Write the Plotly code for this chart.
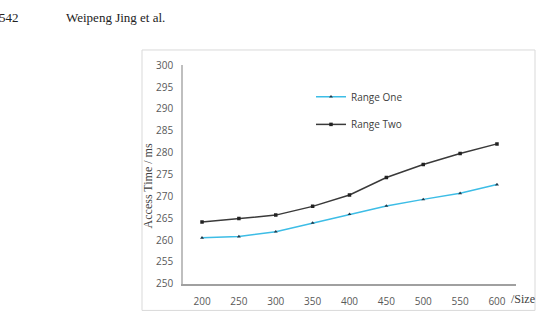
import plotly.graph_objects as go

sizes = [200, 250, 300, 350, 400, 450, 500, 550, 600]
range_one = [260.5, 260.8, 261.9, 263.9, 265.9, 267.8, 269.3, 270.7, 272.7]
range_two = [264.1, 264.9, 265.7, 267.7, 270.3, 274.3, 277.3, 279.8, 282.0]
y_ticks = [250, 255, 260, 265, 270, 275, 280, 285, 290, 295, 300]

W, H = 545, 326
def px(x): return x / W
def py(y): return 1 - y / H

fig = go.Figure()
fig.add_trace(go.Scatter(x=sizes, y=range_one, mode="lines+markers", name="Range One",
                         line=dict(color="#3dbde6", width=1.5),
                         marker=dict(symbol="triangle-up", size=3.5, color="#1f3a4a"),
                         legend="legend"))
fig.add_trace(go.Scatter(x=sizes, y=range_two, mode="lines+markers", name="Range Two",
                         line=dict(color="#3a3a3a", width=1.5),
                         marker=dict(symbol="square", size=3.5, color="#222222"),
                         legend="legend2"))

tickfont = dict(family="Open Sans", size=10, color="#595959")
legfont = dict(family="Open Sans", size=10, color="#404040")

fig.update_layout(
    width=W, height=H, autosize=False,
    margin=dict(l=0, r=0, t=0, b=0),
    paper_bgcolor="white", plot_bgcolor="white",
    xaxis=dict(domain=[px(183), px(516)], range=[174.2, 625.8], tickvals=sizes,
               showgrid=False, zeroline=False, showline=True, linecolor="#a0a0a0", linewidth=1.5,
               ticks="", tickfont=tickfont, ticklabelstandoff=8),
    yaxis=dict(domain=[py(289), py(60)], range=[250, 300], tickvals=y_ticks,
               showgrid=False, zeroline=False, showline=True, linecolor="#bfbfbf", linewidth=1.5,
               ticks="", tickfont=tickfont, ticklabelstandoff=6),
    legend=dict(x=px(311), y=py(93), xanchor="left", yanchor="middle", font=legfont,
                bgcolor="rgba(0,0,0,0)", itemwidth=30),
    legend2=dict(x=px(311), y=py(122), xanchor="left", yanchor="middle", font=legfont,
                 bgcolor="rgba(0,0,0,0)", itemwidth=30),
    showlegend=True,
    shapes=[dict(type="rect", xref="paper", yref="paper", x0=px(142), x1=px(535),
                 y0=py(317), y1=py(44), line=dict(color="#d9d9d9", width=1))],
    annotations=[
        dict(text="542", xref="paper", yref="paper", x=px(-3), y=py(10), xanchor="left",
             yanchor="middle", showarrow=False,
             font=dict(family="Liberation Serif", size=13, color="#222222")),
        dict(text="Weipeng Jing et al.", xref="paper", yref="paper", x=px(64), y=py(10),
             xanchor="left", yanchor="middle", showarrow=False,
             font=dict(family="Liberation Serif", size=13, color="#222222")),
        dict(text="Access Time / ms", xref="paper", yref="paper", x=px(148), y=py(187),
             xanchor="center", yanchor="middle", showarrow=False, textangle=-90,
             font=dict(family="Liberation Serif", size=12, color="#404040")),
        dict(text="/Size", xref="paper", yref="paper", x=px(509), y=py(305),
             xanchor="left", yanchor="middle", showarrow=False,
             font=dict(family="Liberation Serif", size=12, color="#404040")),
    ],
)

fig.write_html("out.html")
